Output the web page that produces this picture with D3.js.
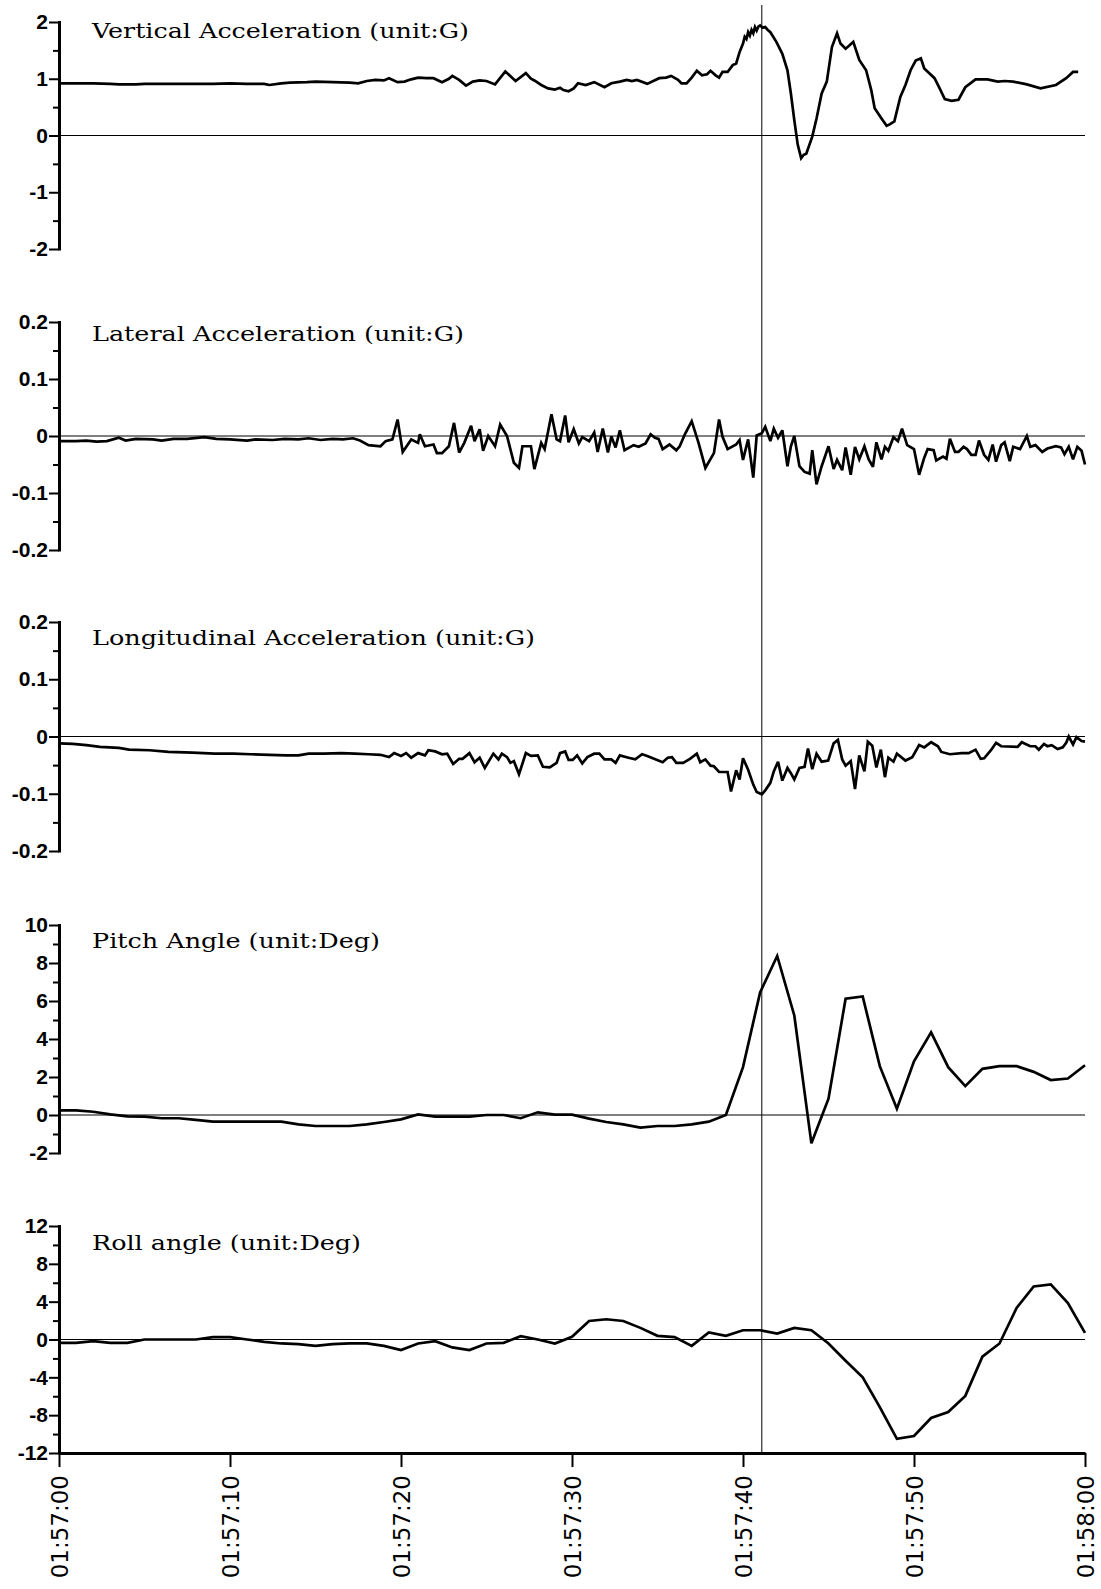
<!DOCTYPE html>
<html><head><meta charset="utf-8">
<script src="https://cdn.jsdelivr.net/npm/d3@7"></script>
<style>body{margin:0;background:#fff} svg{display:block}</style>
</head><body>
<svg id="c" width="1101" height="1589"></svg>
<script>
// ---------------- DATA ----------------
const timeLabels = ["01:57:00","01:57:10","01:57:20","01:57:30","01:57:40","01:57:50","01:58:00"];
const timeTickSeconds = [0,10,20,30,40,50,60];
const markerSecond = 41.1;

const titles = ["Vertical Acceleration (unit:G)","Lateral Acceleration (unit:G)",
  "Longitudinal Acceleration (unit:G)","Pitch Angle (unit:Deg)","Roll angle (unit:Deg)"];

const vertTicks = [2,1,0,-1,-2];
const latTicks = [0.2,0.1,0,-0.1,-0.2];
const lonTicks = [0.2,0.1,0,-0.1,-0.2];
const pitchTicks = [10,8,6,4,2,0,-2];
const rollTicks = [12,8,4,0,-4,-8,-12];

// [seconds after 01:57:00, value]
const vertAccel = [[0,0.92],[1,0.92],[2,0.92],[3,0.91],[3.5,0.90],[4.5,0.90],[5,0.91],[6,0.91],[7,0.91],[8,0.91],[9,0.91],[10,0.92],[11,0.91],[12,0.91],[12.3,0.89],[13,0.92],[13.5,0.93],[14.5,0.94],[15,0.95],[16,0.94],[17,0.93],[17.5,0.92],[18,0.96],[18.5,0.98],[19,0.97],[19.3,1.01],[19.8,0.94],[20.2,0.95],[20.6,0.99],[21,1.02],[21.5,1.01],[21.9,1.01],[22.4,0.94],[22.8,1.0],[23,1.05],[23.4,0.98],[23.8,0.88],[24.2,0.95],[24.6,0.97],[25,0.96],[25.5,0.90],[26.1,1.13],[26.7,0.96],[27.3,1.10],[27.6,1.0],[27.8,0.97],[28.2,0.89],[28.6,0.83],[29.0,0.81],[29.3,0.84],[29.5,0.80],[29.8,0.78],[30.1,0.83],[30.35,0.92],[30.8,0.89],[31.3,0.94],[31.9,0.85],[32.3,0.92],[32.8,0.95],[33.2,0.98],[33.5,0.96],[33.8,0.98],[34.4,0.91],[35.1,1.01],[35.5,1.02],[35.8,1.05],[36.2,0.98],[36.4,0.92],[36.7,0.92],[37.0,1.02],[37.3,1.14],[37.6,1.06],[37.9,1.08],[38.1,1.14],[38.4,1.06],[38.6,1.02],[38.8,1.12],[39.1,1.12],[39.4,1.24],[39.6,1.27],[39.8,1.47],[40.0,1.62],[40.1,1.74],[40.2,1.70],[40.3,1.82],[40.4,1.76],[40.5,1.86],[40.6,1.80],[40.7,1.91],[40.8,1.85],[40.9,1.92],[41.0,1.94],[41.15,1.90],[41.3,1.91],[41.45,1.86],[41.6,1.82],[41.95,1.65],[42.3,1.44],[42.6,1.15],[42.8,0.74],[43.0,0.27],[43.2,-0.16],[43.4,-0.40],[43.55,-0.34],[43.7,-0.32],[44.05,-0.02],[44.3,0.30],[44.6,0.74],[44.9,0.95],[45.2,1.56],[45.5,1.80],[45.7,1.62],[46.0,1.53],[46.2,1.58],[46.45,1.65],[46.8,1.33],[47.2,1.15],[47.5,0.80],[47.7,0.48],[48.1,0.30],[48.4,0.17],[48.6,0.20],[48.85,0.25],[49.2,0.68],[49.5,0.89],[49.8,1.15],[50.1,1.32],[50.4,1.36],[50.6,1.18],[51.2,1.01],[51.5,0.83],[51.8,0.64],[52.2,0.61],[52.6,0.63],[53.0,0.85],[53.6,0.99],[54.3,0.99],[54.9,0.95],[55.3,0.96],[55.8,0.95],[56.6,0.90],[57.4,0.83],[58.3,0.89],[58.9,1.01],[59.3,1.12],[59.6,1.12]];

const latAccel = [[0,-0.009],[1,-0.009],[1.6,-0.008],[2.2,-0.010],[2.8,-0.009],[3.5,-0.003],[3.9,-0.008],[4.5,-0.005],[5.5,-0.006],[6,-0.008],[6.7,-0.005],[7.5,-0.005],[8.5,-0.002],[9.2,-0.005],[10,-0.006],[11,-0.008],[11.5,-0.006],[12.5,-0.007],[13.2,-0.005],[14,-0.006],[14.6,-0.004],[15.3,-0.007],[16,-0.005],[16.6,-0.006],[17.2,-0.004],[17.6,-0.008],[18.1,-0.016],[18.8,-0.018],[19.1,-0.009],[19.5,-0.006],[19.8,0.029],[20.1,-0.028],[20.6,-0.006],[21.0,-0.012],[21.1,0.003],[21.4,-0.018],[21.9,-0.015],[22.1,-0.030],[22.4,-0.030],[22.8,-0.018],[23.1,0.023],[23.4,-0.029],[23.7,-0.012],[24.1,0.018],[24.3,-0.009],[24.6,0.012],[24.8,-0.026],[25.1,0.0],[25.5,-0.018],[25.8,0.020],[26.2,0.0],[26.6,-0.047],[26.9,-0.056],[27.1,-0.018],[27.6,-0.018],[27.8,-0.058],[28.2,-0.012],[28.4,-0.023],[28.8,0.038],[29.1,-0.006],[29.3,-0.009],[29.6,0.036],[29.8,-0.011],[30.1,0.012],[30.4,-0.013],[30.6,-0.002],[31.0,-0.009],[31.3,0.006],[31.5,-0.028],[31.8,0.013],[32.1,-0.029],[32.3,-0.001],[32.55,-0.020],[32.8,0.010],[33.07,-0.025],[33.6,-0.016],[33.9,-0.019],[34.3,-0.013],[34.6,0.003],[34.85,-0.003],[35.06,-0.005],[35.3,-0.023],[35.7,-0.015],[36.1,-0.025],[36.3,-0.018],[36.6,0.003],[37.0,0.026],[37.4,-0.012],[37.8,-0.056],[38.3,-0.030],[38.6,0.029],[38.8,-0.001],[39.1,-0.023],[39.6,-0.015],[39.8,-0.007],[40.0,-0.042],[40.3,-0.006],[40.6,-0.073],[40.8,0.001],[41.1,0.005],[41.3,0.016],[41.6,-0.009],[41.8,0.013],[42.05,-0.003],[42.3,0.010],[42.6,-0.053],[42.8,-0.018],[43.0,0.0],[43.3,-0.053],[43.6,-0.063],[43.9,-0.066],[44.05,-0.025],[44.3,-0.085],[44.6,-0.053],[45.0,-0.018],[45.3,-0.058],[45.5,-0.042],[45.8,-0.060],[46.0,-0.020],[46.3,-0.068],[46.55,-0.019],[46.8,-0.041],[47.1,-0.018],[47.35,-0.041],[47.6,-0.054],[47.8,-0.011],[48.1,-0.041],[48.3,-0.019],[48.5,-0.026],[48.8,-0.002],[49.06,-0.009],[49.3,0.013],[49.6,-0.016],[50.0,-0.023],[50.3,-0.068],[50.6,-0.038],[50.8,-0.023],[51.15,-0.025],[51.3,-0.043],[51.7,-0.036],[51.9,-0.040],[52.1,-0.005],[52.4,-0.028],[52.6,-0.028],[52.9,-0.019],[53.1,-0.023],[53.35,-0.033],[53.6,-0.033],[53.8,-0.008],[54.1,-0.033],[54.35,-0.042],[54.6,-0.015],[54.8,-0.045],[55.1,-0.016],[55.3,-0.011],[55.6,-0.044],[55.8,-0.019],[56.2,-0.023],[56.6,0.0],[56.8,-0.019],[57.1,-0.016],[57.5,-0.028],[57.8,-0.022],[58.3,-0.018],[58.6,-0.020],[58.8,-0.032],[59.05,-0.019],[59.3,-0.041],[59.55,-0.019],[59.8,-0.026],[60.0,-0.050]];

const lonAccel = [[0,-0.012],[0.8,-0.013],[1.6,-0.015],[2.4,-0.018],[3.5,-0.020],[4.1,-0.023],[5.3,-0.024],[6.4,-0.027],[7.8,-0.028],[9.1,-0.030],[10.2,-0.030],[11.2,-0.031],[12.3,-0.032],[13.3,-0.033],[14,-0.033],[14.6,-0.030],[15.5,-0.030],[16.5,-0.029],[17.3,-0.030],[18.1,-0.031],[18.8,-0.032],[19.3,-0.036],[19.6,-0.029],[20.0,-0.034],[20.3,-0.029],[20.6,-0.037],[21.0,-0.029],[21.4,-0.033],[21.6,-0.024],[22.0,-0.026],[22.4,-0.031],[22.7,-0.030],[23.05,-0.048],[23.4,-0.039],[23.6,-0.039],[24.0,-0.029],[24.3,-0.045],[24.6,-0.037],[24.9,-0.055],[25.4,-0.030],[25.7,-0.040],[25.9,-0.030],[26.2,-0.036],[26.4,-0.046],[26.6,-0.043],[26.9,-0.066],[27.3,-0.029],[27.6,-0.034],[28.0,-0.033],[28.3,-0.053],[28.7,-0.054],[29.1,-0.046],[29.3,-0.029],[29.6,-0.026],[29.8,-0.041],[30.04,-0.041],[30.3,-0.033],[30.6,-0.047],[30.9,-0.036],[31.3,-0.030],[31.6,-0.030],[31.9,-0.040],[32.3,-0.040],[32.55,-0.046],[32.8,-0.033],[33.3,-0.037],[33.7,-0.040],[34.1,-0.031],[34.4,-0.034],[35.3,-0.045],[35.6,-0.037],[35.85,-0.036],[36.1,-0.046],[36.5,-0.046],[36.9,-0.039],[37.3,-0.030],[37.5,-0.045],[37.8,-0.040],[38.1,-0.051],[38.3,-0.052],[38.6,-0.062],[39.1,-0.062],[39.3,-0.096],[39.6,-0.059],[39.8,-0.075],[40.0,-0.038],[40.3,-0.058],[40.6,-0.084],[40.8,-0.097],[41.1,-0.101],[41.3,-0.094],[41.6,-0.081],[41.8,-0.061],[42.05,-0.044],[42.3,-0.077],[42.6,-0.055],[42.8,-0.064],[43.0,-0.075],[43.3,-0.055],[43.6,-0.053],[43.8,-0.021],[44.05,-0.057],[44.3,-0.030],[44.6,-0.044],[44.98,-0.042],[45.3,-0.012],[45.55,-0.006],[45.8,-0.040],[46.0,-0.051],[46.3,-0.043],[46.55,-0.092],[46.8,-0.033],[47.1,-0.061],[47.3,-0.009],[47.56,-0.016],[47.8,-0.054],[48.06,-0.023],[48.3,-0.071],[48.5,-0.037],[48.8,-0.044],[49.0,-0.030],[49.5,-0.042],[49.9,-0.036],[50.3,-0.015],[50.6,-0.019],[51.0,-0.010],[51.4,-0.017],[51.6,-0.027],[52.1,-0.031],[52.8,-0.029],[53.2,-0.029],[53.6,-0.023],[53.9,-0.039],[54.1,-0.038],[54.5,-0.024],[54.8,-0.011],[55.1,-0.017],[56.06,-0.018],[56.3,-0.010],[56.8,-0.017],[57.1,-0.017],[57.3,-0.023],[57.6,-0.013],[57.8,-0.017],[58.05,-0.015],[58.4,-0.022],[58.7,-0.019],[58.9,-0.011],[59.05,0.0],[59.3,-0.014],[59.5,-0.001],[59.8,-0.008],[60.0,-0.009]];

// one sample per second, 0..60 s
const pitchAngle = [0.24,0.24,0.17,0.03,-0.07,-0.09,-0.17,-0.17,-0.26,-0.35,-0.35,-0.35,-0.35,-0.35,-0.49,-0.58,-0.58,-0.58,-0.49,-0.37,-0.23,0.03,-0.09,-0.09,-0.09,0.0,0.0,-0.17,0.14,0.02,0.02,-0.19,-0.37,-0.49,-0.66,-0.58,-0.58,-0.49,-0.35,0.0,2.52,6.45,8.37,5.24,-1.49,0.86,6.12,6.24,2.57,0.33,2.83,4.35,2.52,1.52,2.43,2.57,2.57,2.27,1.84,1.92,2.62];
const rollAngle = [-0.35,-0.35,-0.18,-0.35,-0.35,0,0,0,0,0.25,0.25,0,-0.25,-0.42,-0.49,-0.67,-0.49,-0.42,-0.42,-0.67,-1.12,-0.42,-0.18,-0.84,-1.12,-0.42,-0.35,0.35,0,-0.42,0.28,1.96,2.14,1.96,1.23,0.39,0.25,-0.67,0.74,0.39,0.98,0.98,0.63,1.23,0.98,-0.42,-2.24,-3.99,-7.15,-10.5,-10.2,-8.3,-7.67,-5.96,-1.82,-0.42,3.33,5.6,5.82,3.85,0.70];

// ---------------- LAYOUT ----------------
const X0 = 59, X1 = 1085;
const panelTop = [22, 322, 622, 925, 1226];
const panelBottom = [249, 550, 851, 1153, 1453];
const titleBaseline = [38, 341, 645, 948, 1250];
const titleWidth = [377, 372, 443, 288, 269];
const TITLE_X = 92;

const svg = d3.select("#c");
const x = d3.scaleLinear().domain([0, 60]).range([X0, X1]);

const panels = [
  {title: titles[0], data: vertAccel, ticks: vertTicks, minor: [-1.5,-0.5,0.5,1.5]},
  {title: titles[1], data: latAccel, ticks: latTicks, minor: [-0.15,-0.05,0.05,0.15]},
  {title: titles[2], data: lonAccel, ticks: lonTicks, minor: [-0.15,-0.05,0.05,0.15]},
  {title: titles[3], data: pitchAngle.map((v,i)=>[i,v]), ticks: pitchTicks, minor: [-1,1,3,5,7,9]},
  {title: titles[4], data: rollAngle.map((v,i)=>[i,v]), ticks: rollTicks, minor: [-10,-6,-2,2,6,10]},
];

panels.forEach((p, i) => {
  const y = d3.scaleLinear().domain([d3.min(p.ticks), d3.max(p.ticks)]).range([panelBottom[i], panelTop[i]]);
  const g = svg.append("g");

  // zero line
  g.append("line").attr("x1", X0).attr("x2", X1).attr("y1", y(0)).attr("y2", y(0))
    .attr("stroke", "#000").attr("stroke-width", 1);

  // data line
  g.append("path").datum(p.data)
    .attr("fill", "none").attr("stroke", "#000").attr("stroke-width", 2.7)
    .attr("stroke-linejoin", "miter").attr("stroke-miterlimit", 3)
    .attr("d", d3.line().x(d => x(d[0])).y(d => y(d[1])));

  // minor ticks
  const minorAx = g.append("g").attr("transform", `translate(${X0},0)`)
    .call(d3.axisLeft(y).tickValues(p.minor).tickSize(6).tickSizeOuter(0).tickFormat(""));
  minorAx.select(".domain").remove();
  minorAx.selectAll("line").attr("stroke-width", 2);

  // major axis
  const ax = g.append("g").attr("transform", `translate(${X0},0)`)
    .call(d3.axisLeft(y).tickValues(p.ticks).tickSize(10).tickSizeOuter(0).tickPadding(1)
      .tickFormat(d => String(d)));
  ax.select(".domain").attr("stroke-width", 3).attr("d", `M0.5,${y(d3.max(p.ticks))-1}V${y(d3.min(p.ticks))+1.5}`);
  ax.selectAll(".tick line").attr("stroke-width", 2);
  ax.selectAll("text").attr("font-family", "'Liberation Sans', Arial, sans-serif")
    .attr("font-weight", "bold").attr("font-size", 21).attr("fill", "#000");

  // title
  svg.append("text").attr("x", TITLE_X).attr("y", titleBaseline[i])
    .attr("font-family", "'DejaVu Serif', serif").attr("font-size", 21)
    .attr("textLength", titleWidth[i]).attr("lengthAdjust", "spacingAndGlyphs")
    .text(p.title);
});

// bottom time axis
const xa = svg.append("g").attr("transform", `translate(0,${panelBottom[4]})`)
  .call(d3.axisBottom(x).tickValues(timeTickSeconds).tickSize(14).tickSizeOuter(0)
    .tickFormat((d, i) => timeLabels[i]));
xa.select(".domain").attr("stroke-width", 3);
xa.selectAll(".tick line").attr("stroke-width", 2);
xa.selectAll("text")
  .attr("transform", "rotate(-90)")
  .attr("x", -22).attr("y", 0).attr("dy", "0.36em")
  .attr("text-anchor", "end")
  .attr("font-family", "'DejaVu Sans', sans-serif").attr("font-size", 23).attr("fill", "#000");

// event marker
svg.append("line").attr("x1", x(markerSecond)).attr("x2", x(markerSecond))
  .attr("y1", 5).attr("y2", panelBottom[4])
  .attr("stroke", "#000").attr("stroke-width", 1);
</script>
</body></html>
